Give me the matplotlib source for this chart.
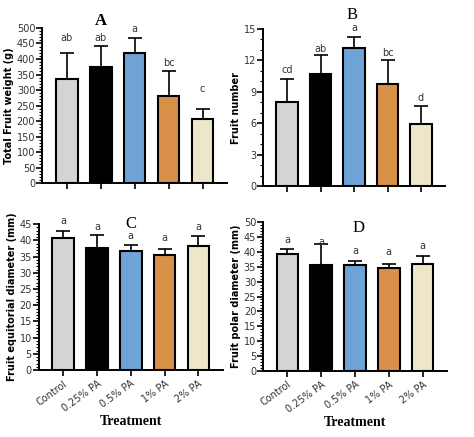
import matplotlib
matplotlib.use("Agg")
import matplotlib.pyplot as plt
from matplotlib.ticker import MultipleLocator

# Data
treatments = ["Control", "0.25% PA", "0.5% PA", "1% PA", "2% PA"]
colors = ["#d4d4d4", "#000000", "#6fa3d6", "#d9914a", "#eee6c9"]

weight_mean = [335, 373, 420, 282, 206]
weight_sd = [85, 68, 48, 78, 34]
weight_letters = ["ab", "ab", "a", "bc", "c"]
weight_letter_y = [450, 453, 480, 372, 286]

number_mean = [8.0, 10.7, 13.2, 9.7, 5.9]
number_sd = [2.2, 1.8, 1.0, 2.3, 1.7]
number_letters = ["cd", "ab", "a", "bc", "d"]
number_letter_y = [10.6, 12.6, 14.6, 12.2, 7.9]

equat_mean = [40.7, 37.8, 36.8, 35.5, 38.2]
equat_sd = [2.3, 3.8, 1.7, 2.0, 3.2]
equat_letters = ["a", "a", "a", "a", "a"]
equat_letter_y = [44.3, 42.6, 39.8, 39.2, 42.6]

polar_mean = [39.4, 35.5, 35.5, 34.7, 36.0]
polar_sd = [1.4, 7.0, 1.4, 1.1, 2.6]
polar_letters = ["a", "a", "a", "a", "a"]
polar_letter_y = [42.3, 41.6, 38.6, 38.2, 40.3]

fig = plt.figure(figsize=(4.74, 4.37), dpi=100)

panels = [
    # rect, mean, sd, letters, letter_y, ylabel, ymax, major, minor, title, title pos, bold, xlabels
    ([0.089, 0.581, 0.390, 0.355], weight_mean, weight_sd, weight_letters, weight_letter_y,
     "Total Fruit weight (g)", 500, 50, 10, "A", (0.32, 1.045), True, False),
    ([0.555, 0.574, 0.384, 0.360], number_mean, number_sd, number_letters, number_letter_y,
     "Fruit number", 15, 3, 1, "B", (0.49, 1.09), False, False),
    ([0.082, 0.153, 0.388, 0.334], equat_mean, equat_sd, equat_letters, equat_letter_y,
     "Fruit equitorial diameter (mm)", 45, 5, 1, "C", (0.50, 1.0), False, True),
    ([0.555, 0.151, 0.388, 0.341], polar_mean, polar_sd, polar_letters, polar_letter_y,
     "Fruit polar diameter (mm)", 50, 5, 1, "D", (0.52, 0.96), False, True),
]

x = range(len(treatments))
for rect, mean, sd, letters, ly, ylabel, ymax, major, minor, title, tpos, bold, showx in panels:
    ax = fig.add_axes(rect)
    ax.bar(x, mean, width=0.64, color=colors, edgecolor="black", linewidth=1.5, zorder=2)
    ax.errorbar(x, mean, yerr=[[0] * len(sd), sd], fmt="none", ecolor="black",
                elinewidth=1.2, capsize=5, capthick=1.2, zorder=1)
    for i, (lab, y) in enumerate(zip(letters, ly)):
        ax.text(i, y, lab, ha="center", va="bottom", fontsize=7, color="#333333")
    ax.set_xlim(-0.72, 4.72)
    ax.set_ylim(0, ymax)
    ax.yaxis.set_major_locator(MultipleLocator(major))
    ax.yaxis.set_minor_locator(MultipleLocator(minor))
    ax.spines["top"].set_visible(False)
    ax.spines["right"].set_visible(False)
    ax.spines["left"].set_linewidth(1.4)
    ax.spines["bottom"].set_linewidth(1.4)
    ax.tick_params(axis="y", which="major", length=4, width=1.2, labelsize=7,
                   labelcolor="#333333", pad=1)
    ax.tick_params(axis="y", which="minor", length=2, width=0.8)
    ax.tick_params(axis="x", length=4, width=1.2, pad=2)
    ax.set_xticks(list(x))
    if showx:
        ax.set_xticklabels(treatments, rotation=36, ha="right", fontsize=7,
                           color="#333333", rotation_mode="anchor")
        ax.set_xlabel("Treatment", fontsize=10, fontweight="bold",
                      family="Liberation Serif", labelpad=1)
    else:
        ax.set_xticklabels([])
    ax.set_ylabel(ylabel, fontsize=7, fontweight="bold", labelpad=2)
    ax.text(tpos[0], tpos[1], title, transform=ax.transAxes, ha="center", va="center",
            fontsize=12, family="Liberation Serif", fontweight="bold" if bold else "normal")

plt.savefig("out.png", dpi=100)
